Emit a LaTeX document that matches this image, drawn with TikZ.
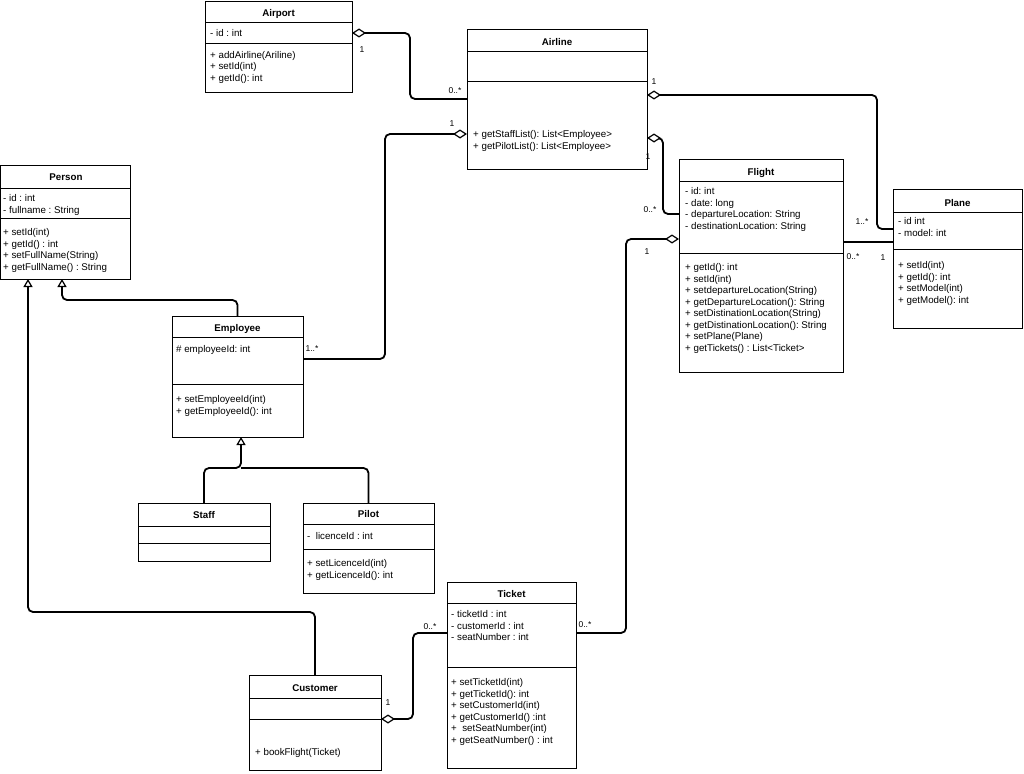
\documentclass[tikz,border=0pt]{standalone}
\usepackage{fontspec}
\setmainfont{Liberation Sans}
\usetikzlibrary{arrows.meta}
\frenchspacing
\newcommand\umllines[4]{%
  \foreach \t [count=\i] in {#4} \node[txt] (#1-\i) at (#2,{#3+(\i-1)*11.5+3.5}) {\t};}
\begin{document}
\begin{tikzpicture}[x=1pt,y=-1pt,
  box/.style={draw, line width=0.9pt, inner sep=0pt, outer sep=0pt, anchor=north west},
  sepl/.style={line width=0.9pt},
  conn/.style={line width=1.8pt, rounded corners=5pt},
  dia/.style={-{Diamond[fill=white, line width=1.2pt, length=14pt, width=9pt]}},
  gen/.style={-{Triangle[fill=white, line width=1.2pt, length=8pt, width=9pt]}},
  txt/.style={anchor=base west, inner sep=0pt, font=\frenchspacing\fontsize{9.75}{11.5}\selectfont},
  ttl/.style={anchor=base, inner sep=0pt, font=\bfseries\fontsize{9.75}{11.5}\selectfont},
  mult/.style={inner sep=0pt, font=\fontsize{8.5}{10}\selectfont}]
\useasboundingbox[fill=white] (0,0) rectangle (1024,773);

% ---------- class boxes ----------
\node[box, minimum width=147pt, minimum height=91pt] (airport) at (205,1) {};
\draw[sepl] (205,22) -- (352,22); \draw[sepl] (205,43) -- (352,43);
\node[ttl] (airport-t) at (278.5,16.5) {Airport};
\umllines{airportA}{210}{33}{- id : int}
\umllines{airportM}{210}{55}{+ addAirline(Ariline), + setId(int), + getId(): int}

\node[box, minimum width=180pt, minimum height=140pt] (airline) at (467,29) {};
\draw[sepl] (467,51) -- (647,51); \draw[sepl] (467,81) -- (647,81);
\node[ttl] (airline-t) at (557,45.5) {Airline};
\umllines{airlineM}{473}{134}{+ getStaffList(): List<Employee>, + getPilotList(): List<Employee>}

\node[box, minimum width=130pt, minimum height=114pt] (person) at (0.5,165) {};
\draw[sepl] (0.5,188) -- (130.5,188); \draw[sepl] (0.5,218) -- (130.5,218);
\node[ttl] (person-t) at (66,180.5) {Person};
\umllines{personA}{3}{198}{- id : int, - fullname : String}
\umllines{personM}{3}{232}{+ setId(int), + getId() : int, + setFullName(String), + getFullName() : String}

\node[box, minimum width=131pt, minimum height=121pt] (employee) at (172,316) {};
\draw[sepl] (172,337) -- (303,337); \draw[sepl] (172,384) -- (303,384);
\node[ttl] (employee-t) at (237.5,331.5) {Employee};
\umllines{employeeA}{176}{349}{\# employeeId: int}
\umllines{employeeM}{176}{399}{+ setEmployeeId(int), + getEmployeeId(): int}

\node[box, minimum width=164pt, minimum height=213pt] (flight) at (679,159) {};
\draw[sepl] (679,181) -- (843,181); \draw[sepl] (679,253) -- (843,253);
\node[ttl] (flight-t) at (761,175.5) {Flight};
\umllines{flightA}{685}{191}{- id: int, - date: long, - departureLocation: String, - destinationLocation: String}
\umllines{flightM}{685}{267}{+ getId(): int, + setId(int), + setdepartureLocation(String), + getDepartureLocation(): String, + setDistinationLocation(String), + getDistinationLocation(): String, + setPlane(Plane), + getTickets() : List<Ticket>}

\node[box, minimum width=129pt, minimum height=139pt] (plane) at (893,189) {};
\draw[sepl] (893,212) -- (1022,212); \draw[sepl] (893,249) -- (1022,249);
\node[ttl] (plane-t) at (957.5,206.5) {Plane};
\umllines{planeA}{898}{221}{- id int, - model: int}
\umllines{planeM}{898}{265}{+ setId(int), + getId(): int, + setModel(int), + getModel(): int}

\node[box, minimum width=132pt, minimum height=58pt] (staff) at (138,503) {};
\draw[sepl] (138,526) -- (270,526); \draw[sepl] (138,543) -- (270,543);
\node[ttl] (staff-t) at (204,518.5) {Staff};

\node[box, minimum width=131pt, minimum height=90pt] (pilot) at (303,503) {};
\draw[sepl] (303,524) -- (434,524); \draw[sepl] (303,549) -- (434,549);
\node[ttl] (pilot-t) at (368.5,517.5) {Pilot};
\umllines{pilotA}{307}{536}{- \ licenceId : int}
\umllines{pilotM}{307}{563}{+ setLicenceId(int), + getLicenceId(): int}

\node[box, minimum width=129pt, minimum height=186pt] (ticket) at (447,582) {};
\draw[sepl] (447,603) -- (576,603); \draw[sepl] (447,667) -- (576,667);
\node[ttl] (ticket-t) at (511.5,597.5) {Ticket};
\umllines{ticketA}{451}{614}{- ticketId : int, - customerId : int, - seatNumber : int}
\umllines{ticketM}{451}{682}{+ setTicketId(int), + getTicketId(): int, + setCustomerId(int), + getCustomerId() :int, + \ setSeatNumber(int), + getSeatNumber() : int}

\node[box, minimum width=132pt, minimum height=95pt] (customer) at (249,675) {};
\draw[sepl] (249,698) -- (381,698); \draw[sepl] (249,719) -- (381,719);
\node[ttl] (customer-t) at (315,691.5) {Customer};
\umllines{customerM}{255}{752}{+ bookFlight(Ticket)}

% ---------- connectors ----------
% Airport <>-- Airline
\draw[conn, dia] ([yshift=-70pt]airline.north west) -- (410,99) -- (410,33) -- ([yshift=-32pt]airport.north east);
\node[mult] (m1) at (362,50) {1};
\node[mult] (m2) at (455,91) {0..*};

% Airline <>-- Plane
\draw[conn, dia] ([yshift=-40pt]plane.north west) -- (877,229) -- (877,95) -- ([yshift=-66pt]airline.north east);
\node[mult] (m3) at (654,82) {1};
\node[mult] (m4) at (862,222) {1..*};

% Airline <>-- Flight
\draw[conn, dia] ([yshift=-55pt]flight.north west) -- (663,214) -- (663,138) -- ([yshift=-109pt]airline.north east);
\node[mult] (m5) at (648,157) {1};
\node[mult] (m6) at (650,210) {0..*};

% Airline <>-- Employee
\draw[conn, dia] ([yshift=-43pt]employee.north east) -- (385,359) -- (385,134) -- ([yshift=-105pt]airline.north west);
\node[mult] (m7) at (452,124) {1};
\node[mult] (m8) at (312,349) {1..*};

% Flight -- Plane
\draw[conn] ([yshift=-83pt]flight.north east) -- ([yshift=-53pt]plane.north west);
\node[mult] (m9) at (853,257) {0..*};
\node[mult] (m10) at (883,258) {1};

% Flight <>-- Ticket
\draw[conn, dia] ([yshift=-51pt]ticket.north east) -- (626,633) -- (626,239) -- ([yshift=-80pt]flight.north west);
\node[mult] (m11) at (647,252) {1};
\node[mult] (m12) at (585,625) {0..*};

% Customer <>-- Ticket
\draw[conn, dia] ([yshift=-51pt]ticket.north west) -- (413,633) -- (413,719) -- ([yshift=-44pt]customer.north east);
\node[mult] (m13) at (430,627) {0..*};
\node[mult] (m14) at (388,703) {1};

% Generalizations
\draw[conn, gen] (employee.north) -- (237.5,300) -- (62,300) -- ([xshift=61.5pt]person.south west);
\draw[conn, gen] (customer.north) -- (315,612) -- (28,612) -- ([xshift=27.5pt]person.south west);
\draw[conn, gen] (staff.north) -- (204,468) -- (241,468) -- ([xshift=69pt]employee.south west);
\draw[conn] (pilot.north) -- (368.5,468) -- (241,468);
\end{tikzpicture}
\end{document}
